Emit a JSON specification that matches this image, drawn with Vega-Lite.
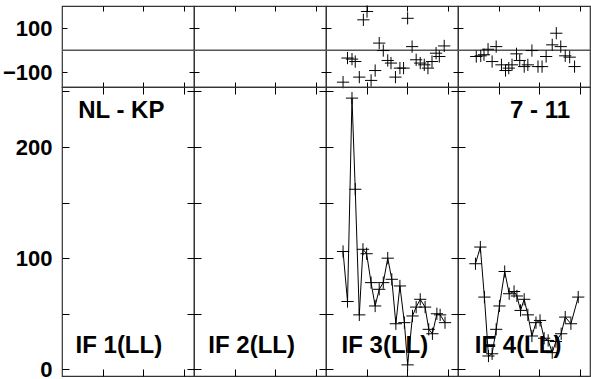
{
  "$schema": "https://vega.github.io/schema/vega-lite/v6.json",
  "background": "white",
  "padding": {"left": 1, "top": 2, "right": 0, "bottom": 0},
  "config": {
    "view": {"stroke": "#333", "strokeWidth": 1.2},
    "axis": {"domain": false, "grid": false, "tickColor": "black", "tickWidth": 1, "labelFont": "Liberation Sans", "labelFontSize": 22, "labelFontWeight": "bold", "labelColor": "black"}
  },
  "datasets": {
    "pts": [
      {"p": "t", "c": 3, "x": 4.2, "y": -145}, {"p": "t", "c": 3, "x": 5.3, "y": -35}, {"p": "t", "c": 3, "x": 6.4, "y": -40}, {"p": "t", "c": 3, "x": 7.2, "y": -51}, {"p": "t", "c": 3, "x": 8.2, "y": -122}, {"p": "t", "c": 3, "x": 9.2, "y": 139}, {"p": "t", "c": 3, "x": 10.1, "y": 177}, {"p": "t", "c": 3, "x": 11.1, "y": -137}, {"p": "t", "c": 3, "x": 12.1, "y": -92}, {"p": "t", "c": 3, "x": 13.1, "y": 33}, {"p": "t", "c": 3, "x": 14.1, "y": -1}, {"p": "t", "c": 3, "x": 15.2, "y": -46}, {"p": "t", "c": 3, "x": 16.0, "y": -58}, {"p": "t", "c": 3, "x": 17.1, "y": -122}, {"p": "t", "c": 3, "x": 18.2, "y": -81}, {"p": "t", "c": 3, "x": 19.1, "y": -81}, {"p": "t", "c": 3, "x": 20.1, "y": 146}, {"p": "t", "c": 3, "x": 21.2, "y": 17}, {"p": "t", "c": 3, "x": 22.2, "y": -43}, {"p": "t", "c": 3, "x": 23.2, "y": -58}, {"p": "t", "c": 3, "x": 24.2, "y": -66}, {"p": "t", "c": 3, "x": 25.1, "y": -81}, {"p": "t", "c": 3, "x": 26.1, "y": -51}, {"p": "t", "c": 3, "x": 27.1, "y": -13}, {"p": "t", "c": 3, "x": 27.9, "y": -28}, {"p": "t", "c": 3, "x": 29.1, "y": 20},
      {"p": "b", "c": 3, "x": 4.2, "y": 106}, {"p": "b", "c": 3, "x": 5.3, "y": 61}, {"p": "b", "c": 3, "x": 6.4, "y": 244}, {"p": "b", "c": 3, "x": 7.2, "y": 162}, {"p": "b", "c": 3, "x": 8.2, "y": 49}, {"p": "b", "c": 3, "x": 9.1, "y": 108}, {"p": "b", "c": 3, "x": 10.0, "y": 104}, {"p": "b", "c": 3, "x": 11.1, "y": 78}, {"p": "b", "c": 3, "x": 12.1, "y": 57}, {"p": "b", "c": 3, "x": 13.1, "y": 72}, {"p": "b", "c": 3, "x": 14.1, "y": 78}, {"p": "b", "c": 3, "x": 15.2, "y": 100}, {"p": "b", "c": 3, "x": 16.2, "y": 81}, {"p": "b", "c": 3, "x": 17.2, "y": 41}, {"p": "b", "c": 3, "x": 18.2, "y": 75}, {"p": "b", "c": 3, "x": 19.3, "y": 42}, {"p": "b", "c": 3, "x": 20.1, "y": 4}, {"p": "b", "c": 3, "x": 21.3, "y": 48}, {"p": "b", "c": 3, "x": 22.2, "y": 56}, {"p": "b", "c": 3, "x": 23.2, "y": 63}, {"p": "b", "c": 3, "x": 24.4, "y": 56}, {"p": "b", "c": 3, "x": 25.3, "y": 36}, {"p": "b", "c": 3, "x": 26.2, "y": 32}, {"p": "b", "c": 3, "x": 27.3, "y": 50}, {"p": "b", "c": 3, "x": 28.1, "y": 49}, {"p": "b", "c": 3, "x": 29.3, "y": 42},
      {"p": "t", "c": 4, "x": 4.5, "y": -28}, {"p": "t", "c": 4, "x": 5.6, "y": -25}, {"p": "t", "c": 4, "x": 6.4, "y": -20}, {"p": "t", "c": 4, "x": 7.4, "y": 5}, {"p": "t", "c": 4, "x": 8.4, "y": -51}, {"p": "t", "c": 4, "x": 9.4, "y": 17}, {"p": "t", "c": 4, "x": 10.7, "y": -66}, {"p": "t", "c": 4, "x": 11.7, "y": -92}, {"p": "t", "c": 4, "x": 12.5, "y": -81}, {"p": "t", "c": 4, "x": 13.3, "y": -66}, {"p": "t", "c": 4, "x": 14.4, "y": -16}, {"p": "t", "c": 4, "x": 15.2, "y": -46}, {"p": "t", "c": 4, "x": 16.3, "y": -74}, {"p": "t", "c": 4, "x": 17.2, "y": -66}, {"p": "t", "c": 4, "x": 18.2, "y": -1}, {"p": "t", "c": 4, "x": 19.7, "y": -74}, {"p": "t", "c": 4, "x": 20.7, "y": -74}, {"p": "t", "c": 4, "x": 21.7, "y": -28}, {"p": "t", "c": 4, "x": 23.2, "y": 25}, {"p": "t", "c": 4, "x": 24.2, "y": 78}, {"p": "t", "c": 4, "x": 25.3, "y": 17}, {"p": "t", "c": 4, "x": 26.4, "y": -25}, {"p": "t", "c": 4, "x": 27.5, "y": -31}, {"p": "t", "c": 4, "x": 28.7, "y": -74},
      {"p": "b", "c": 4, "x": 4.3, "y": 95}, {"p": "b", "c": 4, "x": 5.5, "y": 110}, {"p": "b", "c": 4, "x": 6.5, "y": 65}, {"p": "b", "c": 4, "x": 7.5, "y": 12}, {"p": "b", "c": 4, "x": 8.4, "y": 14}, {"p": "b", "c": 4, "x": 9.4, "y": 36}, {"p": "b", "c": 4, "x": 10.2, "y": 57}, {"p": "b", "c": 4, "x": 11.5, "y": 88}, {"p": "b", "c": 4, "x": 12.6, "y": 68}, {"p": "b", "c": 4, "x": 13.8, "y": 70}, {"p": "b", "c": 4, "x": 14.5, "y": 66}, {"p": "b", "c": 4, "x": 15.4, "y": 53}, {"p": "b", "c": 4, "x": 16.3, "y": 63}, {"p": "b", "c": 4, "x": 17.2, "y": 49}, {"p": "b", "c": 4, "x": 18.2, "y": 30}, {"p": "b", "c": 4, "x": 19.2, "y": 42}, {"p": "b", "c": 4, "x": 20.2, "y": 44}, {"p": "b", "c": 4, "x": 21.2, "y": 28}, {"p": "b", "c": 4, "x": 22.2, "y": 26}, {"p": "b", "c": 4, "x": 23.2, "y": 15}, {"p": "b", "c": 4, "x": 24.1, "y": 25}, {"p": "b", "c": 4, "x": 25.4, "y": 32}, {"p": "b", "c": 4, "x": 26.4, "y": 47}, {"p": "b", "c": 4, "x": 27.8, "y": 41}, {"p": "b", "c": 4, "x": 29.6, "y": 65}
    ]
  },
  "concat": [
    {"width": 132, "height": 81, "resolve": {"axis": {"x": "independent"}}, "layer": [
      {"data": {"values": [{}]}, "mark": {"type": "rule", "color": "#555", "strokeWidth": 1.5}, "encoding": {"y": {"datum": 0, "type": "quantitative", "scale": {"domain": [-167, 202], "nice": false, "zero": false}, "axis": {"title": null, "values": [-100, 100], "offset": -5, "tickSize": 5, "labelPadding": 10}}}},
      {"data": {"name": "pts"}, "transform": [{"filter": "datum.p == 't' && datum.c == 1"}], "mark": {"type": "point", "shape": "M-1,0L1,0M0,-1L0,1", "size": 150, "filled": false, "color": "black", "strokeWidth": 1, "opacity": 1}, "encoding": {"x": {"field": "x", "type": "quantitative", "scale": {"domain": [0, 32.5], "nice": false, "zero": false}, "axis": {"title": null, "orient": "bottom", "values": [10, 20, 30], "offset": -5, "tickSize": 12, "labels": false}}, "y": {"field": "y", "type": "quantitative", "scale": {"domain": [-167, 202], "nice": false, "zero": false}, "axis": {"title": null, "values": [-100, 100], "offset": -5, "tickSize": 5, "labelPadding": 10}}}},
      {"data": {"name": "pts"}, "transform": [{"filter": "datum.p == 't' && datum.c == 1"}], "mark": {"type": "point", "opacity": 0}, "encoding": {"x": {"field": "x", "type": "quantitative", "scale": {"domain": [0, 32.5], "nice": false, "zero": false}, "axis": {"title": null, "orient": "top", "values": [10, 20, 30], "offset": -5, "tickSize": 5, "labels": false}}, "y": {"field": "y", "type": "quantitative", "scale": {"domain": [-167, 202], "nice": false, "zero": false}, "axis": {"title": null, "values": [-100, 100], "offset": -5, "tickSize": 5, "labelPadding": 10}}}}
    ]},
    {"width": 132, "height": 81, "resolve": {"axis": {"x": "independent"}}, "layer": [
      {"data": {"values": [{}]}, "mark": {"type": "rule", "color": "#555", "strokeWidth": 1.5}, "encoding": {"y": {"datum": 0, "type": "quantitative", "scale": {"domain": [-167, 202], "nice": false, "zero": false}, "axis": {"title": null, "values": [-100, 100], "offset": -5, "tickSize": 10, "labels": false}}}},
      {"data": {"name": "pts"}, "transform": [{"filter": "datum.p == 't' && datum.c == 2"}], "mark": {"type": "point", "shape": "M-1,0L1,0M0,-1L0,1", "size": 150, "filled": false, "color": "black", "strokeWidth": 1, "opacity": 1}, "encoding": {"x": {"field": "x", "type": "quantitative", "scale": {"domain": [0, 32.5], "nice": false, "zero": false}, "axis": {"title": null, "orient": "bottom", "values": [10, 20, 30], "offset": -5, "tickSize": 12, "labels": false}}, "y": {"field": "y", "type": "quantitative", "scale": {"domain": [-167, 202], "nice": false, "zero": false}, "axis": {"title": null, "values": [-100, 100], "offset": -5, "tickSize": 10, "labels": false}}}},
      {"data": {"name": "pts"}, "transform": [{"filter": "datum.p == 't' && datum.c == 2"}], "mark": {"type": "point", "opacity": 0}, "encoding": {"x": {"field": "x", "type": "quantitative", "scale": {"domain": [0, 32.5], "nice": false, "zero": false}, "axis": {"title": null, "orient": "top", "values": [10, 20, 30], "offset": -5, "tickSize": 5, "labels": false}}, "y": {"field": "y", "type": "quantitative", "scale": {"domain": [-167, 202], "nice": false, "zero": false}, "axis": {"title": null, "values": [-100, 100], "offset": -5, "tickSize": 10, "labels": false}}}}
    ]},
    {"width": 132, "height": 81, "resolve": {"axis": {"x": "independent"}}, "layer": [
      {"data": {"values": [{}]}, "mark": {"type": "rule", "color": "#555", "strokeWidth": 1.5}, "encoding": {"y": {"datum": 0, "type": "quantitative", "scale": {"domain": [-167, 202], "nice": false, "zero": false}, "axis": {"title": null, "values": [-100, 100], "offset": -5, "tickSize": 10, "labels": false}}}},
      {"data": {"name": "pts"}, "transform": [{"filter": "datum.p == 't' && datum.c == 3"}], "mark": {"type": "point", "shape": "M-1,0L1,0M0,-1L0,1", "size": 150, "filled": false, "color": "black", "strokeWidth": 1, "opacity": 1}, "encoding": {"x": {"field": "x", "type": "quantitative", "scale": {"domain": [0, 32.5], "nice": false, "zero": false}, "axis": {"title": null, "orient": "bottom", "values": [10, 20, 30], "offset": -5, "tickSize": 12, "labels": false}}, "y": {"field": "y", "type": "quantitative", "scale": {"domain": [-167, 202], "nice": false, "zero": false}, "axis": {"title": null, "values": [-100, 100], "offset": -5, "tickSize": 10, "labels": false}}}},
      {"data": {"name": "pts"}, "transform": [{"filter": "datum.p == 't' && datum.c == 3"}], "mark": {"type": "point", "opacity": 0}, "encoding": {"x": {"field": "x", "type": "quantitative", "scale": {"domain": [0, 32.5], "nice": false, "zero": false}, "axis": {"title": null, "orient": "top", "values": [10, 20, 30], "offset": -5, "tickSize": 5, "labels": false}}, "y": {"field": "y", "type": "quantitative", "scale": {"domain": [-167, 202], "nice": false, "zero": false}, "axis": {"title": null, "values": [-100, 100], "offset": -5, "tickSize": 10, "labels": false}}}}
    ]},
    {"width": 132, "height": 81, "resolve": {"axis": {"x": "independent"}}, "layer": [
      {"data": {"values": [{}]}, "mark": {"type": "rule", "color": "#555", "strokeWidth": 1.5}, "encoding": {"y": {"datum": 0, "type": "quantitative", "scale": {"domain": [-167, 202], "nice": false, "zero": false}, "axis": {"title": null, "values": [-100, 100], "offset": -5, "tickSize": 10, "labels": false}}}},
      {"data": {"name": "pts"}, "transform": [{"filter": "datum.p == 't' && datum.c == 4"}], "mark": {"type": "point", "shape": "M-1,0L1,0M0,-1L0,1", "size": 150, "filled": false, "color": "black", "strokeWidth": 1, "opacity": 1}, "encoding": {"x": {"field": "x", "type": "quantitative", "scale": {"domain": [0, 32.5], "nice": false, "zero": false}, "axis": {"title": null, "orient": "bottom", "values": [10, 20, 30], "offset": -5, "tickSize": 12, "labels": false}}, "y": {"field": "y", "type": "quantitative", "scale": {"domain": [-167, 202], "nice": false, "zero": false}, "axis": {"title": null, "values": [-100, 100], "offset": -5, "tickSize": 10, "labels": false}}}},
      {"data": {"name": "pts"}, "transform": [{"filter": "datum.p == 't' && datum.c == 4"}], "mark": {"type": "point", "opacity": 0}, "encoding": {"x": {"field": "x", "type": "quantitative", "scale": {"domain": [0, 32.5], "nice": false, "zero": false}, "axis": {"title": null, "orient": "top", "values": [10, 20, 30], "offset": -5, "tickSize": 5, "labels": false}}, "y": {"field": "y", "type": "quantitative", "scale": {"domain": [-167, 202], "nice": false, "zero": false}, "axis": {"title": null, "values": [-100, 100], "offset": -5, "tickSize": 10, "labels": false}}}}
    ]},
    {"width": 132, "height": 289, "layer": [
      {"data": {"values": [{}]}, "mark": {"type": "text", "font": "Liberation Sans", "fontWeight": "bold", "fontSize": 24, "color": "black", "align": "center", "baseline": "middle"}, "encoding": {"x": {"datum": 14.6, "type": "quantitative", "scale": {"domain": [0, 32.5], "nice": false, "zero": false}, "axis": {"title": null, "orient": "bottom", "values": [10, 20, 30], "offset": -7, "tickSize": 7, "labels": false}}, "y": {"datum": 232, "type": "quantitative", "scale": {"domain": [-6, 254], "nice": false, "zero": false}, "axis": {"title": null, "values": [0, 50, 100, 150, 200, 250], "offset": -7, "tickSize": 7, "labelPadding": 10, "labelExpr": "datum.value % 100 == 0 ? datum.label : ''"}}, "text": {"value": "NL - KP"}}},
      {"data": {"values": [{}]}, "mark": {"type": "text", "font": "Liberation Sans", "fontWeight": "bold", "fontSize": 24, "color": "black", "align": "center", "baseline": "middle"}, "encoding": {"x": {"datum": 14.0, "type": "quantitative", "scale": {"domain": [0, 32.5], "nice": false, "zero": false}, "axis": {"title": null, "orient": "bottom", "values": [10, 20, 30], "offset": -7, "tickSize": 7, "labels": false}}, "y": {"datum": 21, "type": "quantitative", "scale": {"domain": [-6, 254], "nice": false, "zero": false}, "axis": {"title": null, "values": [0, 50, 100, 150, 200, 250], "offset": -7, "tickSize": 7, "labelPadding": 10, "labelExpr": "datum.value % 100 == 0 ? datum.label : ''"}}, "text": {"value": "IF 1(LL)"}}}
    ]},
    {"width": 132, "height": 289, "layer": [
      {"data": {"values": [{}]}, "mark": {"type": "text", "font": "Liberation Sans", "fontWeight": "bold", "fontSize": 24, "color": "black", "align": "center", "baseline": "middle"}, "encoding": {"x": {"datum": 14.2, "type": "quantitative", "scale": {"domain": [0, 32.5], "nice": false, "zero": false}, "axis": {"title": null, "orient": "bottom", "values": [10, 20, 30], "offset": -7, "tickSize": 7, "labels": false}}, "y": {"datum": 21, "type": "quantitative", "scale": {"domain": [-6, 254], "nice": false, "zero": false}, "axis": {"title": null, "values": [0, 50, 100, 150, 200, 250], "offset": -7, "tickSize": 14, "labels": false}}, "text": {"value": "IF 2(LL)"}}}
    ]},
    {"width": 132, "height": 289, "layer": [
      {"data": {"values": [{}]}, "mark": {"type": "text", "font": "Liberation Sans", "fontWeight": "bold", "fontSize": 24, "color": "black", "align": "center", "baseline": "middle"}, "encoding": {"x": {"datum": 14.5, "type": "quantitative", "scale": {"domain": [0, 32.5], "nice": false, "zero": false}, "axis": {"title": null, "orient": "bottom", "values": [10, 20, 30], "offset": -7, "tickSize": 7, "labels": false}}, "y": {"datum": 21, "type": "quantitative", "scale": {"domain": [-6, 254], "nice": false, "zero": false}, "axis": {"title": null, "values": [0, 50, 100, 150, 200, 250], "offset": -7, "tickSize": 14, "labels": false}}, "text": {"value": "IF 3(LL)"}}},
      {"data": {"name": "pts"}, "transform": [{"filter": "datum.p == 'b' && datum.c == 3"}], "mark": {"type": "line", "color": "black", "strokeWidth": 1}, "encoding": {"x": {"field": "x", "type": "quantitative", "scale": {"domain": [0, 32.5], "nice": false, "zero": false}, "axis": {"title": null, "orient": "bottom", "values": [10, 20, 30], "offset": -7, "tickSize": 7, "labels": false}}, "y": {"field": "y", "type": "quantitative", "scale": {"domain": [-6, 254], "nice": false, "zero": false}, "axis": {"title": null, "values": [0, 50, 100, 150, 200, 250], "offset": -7, "tickSize": 14, "labels": false}}}},
      {"data": {"name": "pts"}, "transform": [{"filter": "datum.p == 'b' && datum.c == 3"}], "mark": {"type": "point", "shape": "M-1,0L1,0M0,-1L0,1", "size": 150, "filled": false, "color": "black", "strokeWidth": 1, "opacity": 1}, "encoding": {"x": {"field": "x", "type": "quantitative", "scale": {"domain": [0, 32.5], "nice": false, "zero": false}, "axis": {"title": null, "orient": "bottom", "values": [10, 20, 30], "offset": -7, "tickSize": 7, "labels": false}}, "y": {"field": "y", "type": "quantitative", "scale": {"domain": [-6, 254], "nice": false, "zero": false}, "axis": {"title": null, "values": [0, 50, 100, 150, 200, 250], "offset": -7, "tickSize": 14, "labels": false}}}}
    ]},
    {"width": 132, "height": 289, "layer": [
      {"data": {"values": [{}]}, "mark": {"type": "text", "font": "Liberation Sans", "fontWeight": "bold", "fontSize": 24, "color": "black", "align": "center", "baseline": "middle"}, "encoding": {"x": {"datum": 20.2, "type": "quantitative", "scale": {"domain": [0, 32.5], "nice": false, "zero": false}, "axis": {"title": null, "orient": "bottom", "values": [10, 20, 30], "offset": -7, "tickSize": 7, "labels": false}}, "y": {"datum": 232, "type": "quantitative", "scale": {"domain": [-6, 254], "nice": false, "zero": false}, "axis": {"title": null, "values": [0, 50, 100, 150, 200, 250], "offset": -7, "tickSize": 14, "labels": false}}, "text": {"value": "7 - 11"}}},
      {"data": {"values": [{}]}, "mark": {"type": "text", "font": "Liberation Sans", "fontWeight": "bold", "fontSize": 24, "color": "black", "align": "center", "baseline": "middle"}, "encoding": {"x": {"datum": 14.8, "type": "quantitative", "scale": {"domain": [0, 32.5], "nice": false, "zero": false}, "axis": {"title": null, "orient": "bottom", "values": [10, 20, 30], "offset": -7, "tickSize": 7, "labels": false}}, "y": {"datum": 21, "type": "quantitative", "scale": {"domain": [-6, 254], "nice": false, "zero": false}, "axis": {"title": null, "values": [0, 50, 100, 150, 200, 250], "offset": -7, "tickSize": 14, "labels": false}}, "text": {"value": "IF 4(LL)"}}},
      {"data": {"name": "pts"}, "transform": [{"filter": "datum.p == 'b' && datum.c == 4"}], "mark": {"type": "line", "color": "black", "strokeWidth": 1}, "encoding": {"x": {"field": "x", "type": "quantitative", "scale": {"domain": [0, 32.5], "nice": false, "zero": false}, "axis": {"title": null, "orient": "bottom", "values": [10, 20, 30], "offset": -7, "tickSize": 7, "labels": false}}, "y": {"field": "y", "type": "quantitative", "scale": {"domain": [-6, 254], "nice": false, "zero": false}, "axis": {"title": null, "values": [0, 50, 100, 150, 200, 250], "offset": -7, "tickSize": 14, "labels": false}}}},
      {"data": {"name": "pts"}, "transform": [{"filter": "datum.p == 'b' && datum.c == 4"}], "mark": {"type": "point", "shape": "M-1,0L1,0M0,-1L0,1", "size": 150, "filled": false, "color": "black", "strokeWidth": 1, "opacity": 1}, "encoding": {"x": {"field": "x", "type": "quantitative", "scale": {"domain": [0, 32.5], "nice": false, "zero": false}, "axis": {"title": null, "orient": "bottom", "values": [10, 20, 30], "offset": -7, "tickSize": 7, "labels": false}}, "y": {"field": "y", "type": "quantitative", "scale": {"domain": [-6, 254], "nice": false, "zero": false}, "axis": {"title": null, "values": [0, 50, 100, 150, 200, 250], "offset": -7, "tickSize": 14, "labels": false}}}}
    ]}
  ],
  "columns": 4,
  "spacing": 0,
  "bounds": "flush"
}
